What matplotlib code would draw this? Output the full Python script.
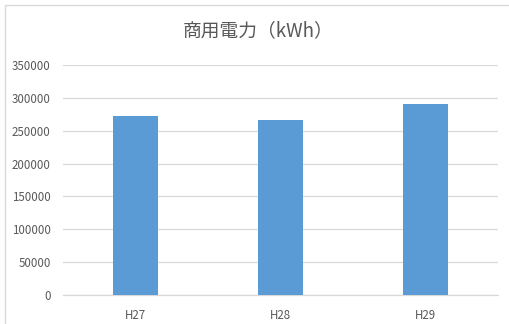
import matplotlib
matplotlib.use("Agg")
import matplotlib.pyplot as plt
from matplotlib.patches import Rectangle

plt.rcParams["font.family"] = ["Noto Sans CJK JP", "DejaVu Sans"]

years = ["H27", "H28", "H29"]
power_kwh = [272000, 266000, 291000]
y_ticks = [0, 50000, 100000, 150000, 200000, 250000, 300000, 350000]

text_grey = "#595959"
grid_grey = "#d9d9d9"

fig = plt.figure(figsize=(5.09, 3.24), dpi=100)
ax = fig.add_axes([0.124, 0.0895, 0.854, 0.71])

# chart frame, only the left and top edges fall inside the image
fig.patches.append(Rectangle((5 / 509, -0.1), 1.5, 1.1 - 5 / 324,
                             transform=fig.transFigure, fill=False,
                             edgecolor=grid_grey, linewidth=1.0))

ax.bar(years, power_kwh, width=0.31, color="#5b9bd5", zorder=3)

ax.set_ylim(0, 350000)
ax.set_xlim(-0.5, 2.5)
ax.set_yticks(y_ticks)
ax.set_yticklabels([str(v) for v in y_ticks])
ax.yaxis.grid(True, color=grid_grey, linewidth=0.9, zorder=0)
ax.tick_params(axis="both", length=0, colors=text_grey, labelsize=8.3)
ax.tick_params(axis="y", pad=9)
ax.tick_params(axis="x", pad=10)
for side in ["top", "right", "left"]:
    ax.spines[side].set_visible(False)
ax.spines["bottom"].set_color(grid_grey)
ax.spines["bottom"].set_linewidth(0.9)

fig.text(0.507, 0.905, "商用電力（kWh）", ha="center", va="center",
         fontsize=13.5, color=text_grey)

fig.savefig("out.png", dpi=100)
